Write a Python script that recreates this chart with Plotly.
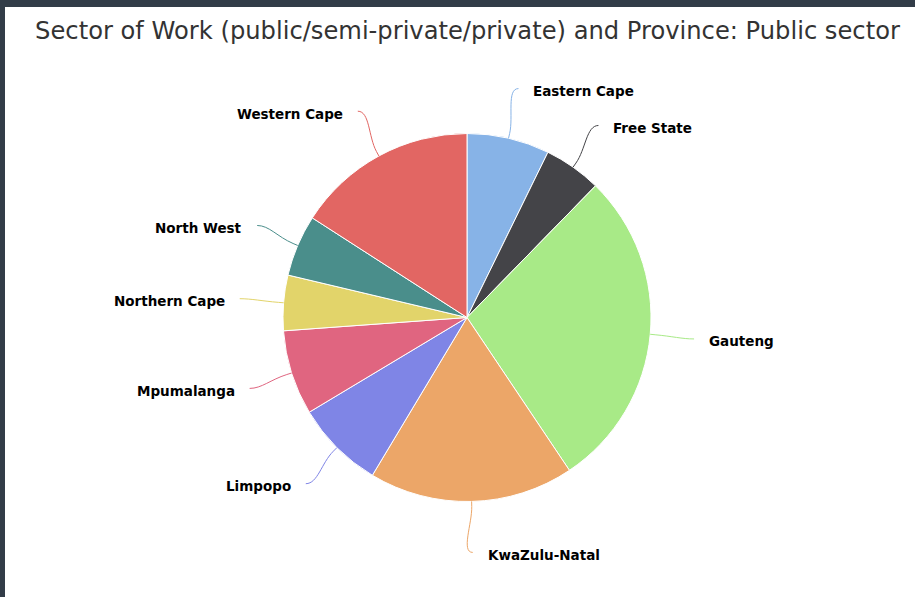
import math
import plotly.graph_objects as go

provinces = ["Eastern Cape", "Free State", "Gauteng", "KwaZulu-Natal", "Limpopo",
             "Mpumalanga", "Northern Cape", "North West", "Western Cape"]
shares = [7.25, 5.06, 28.3, 18.0, 7.8, 7.45, 4.86, 5.4, 15.9]
colors = ["#87b3e7", "#444448", "#a8ea87", "#eca668", "#7f85e6",
          "#e06580", "#e2d46a", "#4a8e8b", "#e26663"]
title_text = "Sector of Work (public/semi-private/private) and Province: Public sector"

W, H = 915, 597
CX, CY, R = 467, 317.5, 184
LABEL_RX, LABEL_RY = 228, 235
TEXT_GAP = 13


def px(x):
    return x / W


def py(y):
    return 1 - y / H


fig = go.Figure(go.Pie(
    labels=provinces, values=shares, sort=False, direction="clockwise", rotation=0,
    textinfo="none", marker=dict(colors=colors, line=dict(color="white", width=1)),
    domain=dict(x=[px(CX - R), px(CX + R)], y=[py(CY + R), py(CY - R)]),
    showlegend=False, hoverinfo="label+percent",
))

shapes = []
annotations = []
total = sum(shares)
cum = 0.0
for name, val, col in zip(provinces, shares, colors):
    mid = (cum + val / 2) / total * 2 * math.pi
    cum += val
    s, c = math.sin(mid), -math.cos(mid)
    right = s >= -1e-9
    # connector end (at label)
    ex, ey = CX + LABEL_RX * s, CY + LABEL_RY * c
    # break right outside pie and landing point
    bx, by = CX + (R + 5) * s, CY + (R + 5) * c
    c2x, c2y = CX + (R + 22) * s, CY + (R + 22) * c
    lx, ly = CX + R * s, CY + R * c
    c1x = ex + (-12 if right else 12)
    path = (f"M {px(ex)},{py(ey)} C {px(c1x)},{py(ey)} {px(c2x)},{py(c2y)} {px(bx)},{py(by)} "
            f"L {px(lx)},{py(ly)}")
    shapes.append(dict(type="path", xref="paper", yref="paper", path=path,
                       line=dict(color=col, width=1)))
    tx = ex + (TEXT_GAP if right else -TEXT_GAP)
    annotations.append(dict(
        x=px(tx), y=py(ey + 2.5), xref="paper", yref="paper", text=f"<b>{name}</b>",
        showarrow=False, xanchor="left" if right else "right", yanchor="middle",
        font=dict(family="DejaVu Sans", size=13.5, color="#000000"),
    ))

# dark page frame at top and left
shapes.append(dict(type="rect", xref="paper", yref="paper", x0=0, x1=1, y0=py(7), y1=1,
                   fillcolor="#323c48", line=dict(width=0), layer="above"))
shapes.append(dict(type="rect", xref="paper", yref="paper", x0=0, x1=px(5), y0=0, y1=1,
                   fillcolor="#323c48", line=dict(width=0), layer="above"))

fig.update_layout(
    width=W, height=H, margin=dict(l=0, r=0, t=0, b=0),
    paper_bgcolor="white", plot_bgcolor="white",
    title=dict(text=title_text, x=px(467.5), xanchor="center", y=py(31), yanchor="middle",
               xref="paper", yref="container",
               font=dict(family="DejaVu Sans", size=24.2, color="#333333")),
    shapes=shapes, annotations=annotations,
)

fig.write_html("out.html")
